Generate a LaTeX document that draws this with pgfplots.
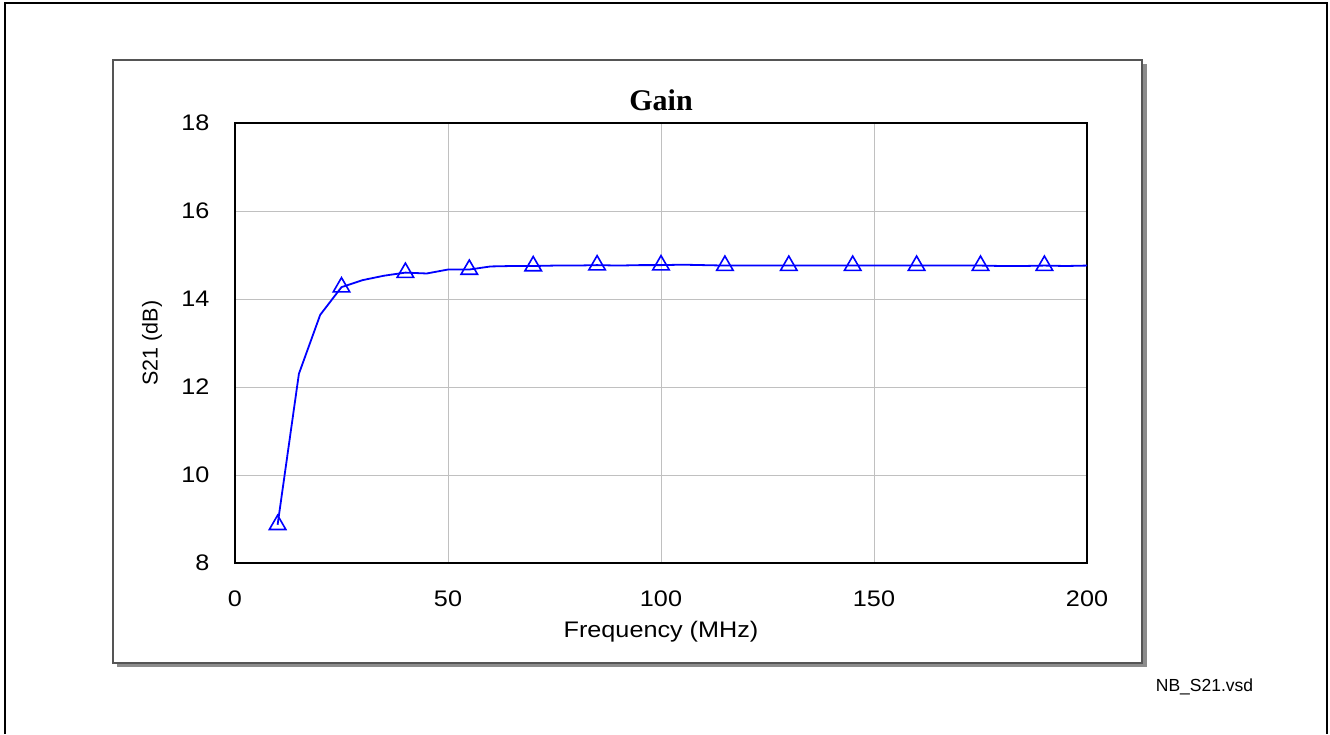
\documentclass[border=0pt]{standalone}
\usepackage{pgfplots}
\pgfplotsset{compat=1.18}
\usepackage{fontspec}
\setmainfont{Liberation Sans}
\newfontfamily\widefont[FakeStretch=1.12]{Liberation Sans}
\newfontfamily\titlefont{Liberation Serif}
\definecolor{gridgray}{RGB}{192,192,192}
\definecolor{boxgray}{RGB}{85,85,85}
\definecolor{shadowgray}{RGB}{140,140,140}
\begin{document}
\begin{tikzpicture}
\useasboundingbox (0pt,0pt) rectangle (1330pt,-734pt);
% outer frame (open at bottom)
\draw[line width=2pt,black] (5pt,-734pt) -- (5pt,-3pt) -- (1327pt,-3pt) -- (1327pt,-734pt);
% shadow and inner box
\fill[shadowgray] (117pt,-64pt) rectangle (1147pt,-667pt);
\filldraw[fill=white,draw=boxgray,line width=1.5pt] (113pt,-60pt) rectangle (1142pt,-663pt);
\begin{axis}[
  at={(235pt,-563pt)}, anchor=south west,
  scale only axis, width=852pt, height=440pt,
  xmin=0, xmax=200, ymin=8, ymax=18,
  xtick={0,50,100,150,200}, ytick={8,10,12,14,16,18},
  major tick length=0pt,
  grid=major,
  major grid style={gridgray, line width=1pt},
  axis line style={black, line width=1.5pt},
  /pgf/number format/assume math mode=true,
  tick label style={font=\widefont\fontsize{22.5}{25}\selectfont},
  xticklabel style={yshift=-24pt},
  yticklabel style={xshift=-22pt},
  title={\titlefont\bfseries\fontsize{30}{34}\selectfont Gain},
  title style={at={(0.5,1.039)}, anchor=center},
  xlabel={Frequency (MHz)},
  ylabel={S21 (dB)},
  xlabel style={font=\widefont\fontsize{22.5}{25}\selectfont, at={(0.5,-0.155)}, anchor=center},
  ylabel style={font=\fontsize{21.5}{24}\selectfont, at={(-0.0974,0.5)}, anchor=center, rotate=0},
]
\addplot[color={rgb,255:red,0;green,0;blue,255}, line width=1.8pt,
  mark=triangle, mark size=9.5pt, mark repeat=3, mark phase=1,
  mark options={solid, fill=none, line width=1.6pt}]
table {
x y
10 8.87
15 12.30
20 13.64
25 14.27
30 14.43
35 14.53
40 14.60
45 14.58
50 14.67
55 14.67
60 14.74
65 14.75
70 14.75
75 14.76
80 14.76
85 14.77
90 14.76
95 14.77
100 14.77
105 14.78
110 14.77
115 14.76
120 14.76
125 14.76
130 14.76
135 14.76
140 14.76
145 14.76
150 14.76
155 14.76
160 14.76
165 14.76
170 14.76
175 14.76
180 14.75
185 14.75
190 14.76
195 14.75
200 14.76
};
\end{axis}
\node[anchor=center, font=\fontsize{17.5}{20}\selectfont] at (1204.5pt,-687pt) {NB\_S21.vsd};
\end{tikzpicture}
\end{document}
